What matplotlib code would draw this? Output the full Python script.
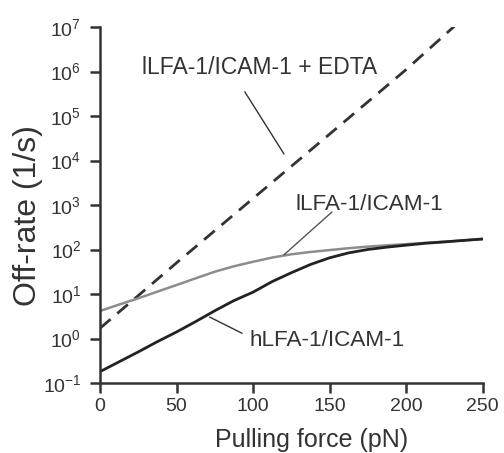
import numpy as np
import matplotlib
matplotlib.use('Agg')
import matplotlib.pyplot as plt
from matplotlib.ticker import LogLocator, LogFormatterSciNotation, NullLocator

## Fonts
plt.rcParams['font.family'] = ['Liberation Sans', 'DejaVu Sans']
plt.rcParams['mathtext.fontset'] = 'custom'
plt.rcParams['mathtext.rm'] = 'Liberation Sans'
plt.rcParams['mathtext.it'] = 'Liberation Sans:italic'
plt.rcParams['mathtext.bf'] = 'Liberation Sans:bold'

## DATA
force = [0, 12.5, 25, 37.5, 50, 62.5, 75, 87.5, 100, 112.5, 125, 137.5,
         150, 162.5, 175, 187.5, 200, 212.5, 225, 237.5, 250]
# hLFA-1/ICAM-1
rate_h = [0.18, 0.30, 0.50, 0.85, 1.4, 2.4, 4.2, 7.1, 11, 19, 30, 46,
          65, 84, 100, 113, 125, 138, 148, 160, 172]
# lLFA-1/ICAM-1
rate_l = [4.15, 5.8, 8.0, 11.3, 15.9, 22.5, 31.7, 42, 53, 66, 78, 88,
          97, 107, 116, 124, 132, 141, 150, 160, 172]
# lLFA-1/ICAM-1 + EDTA
force_edta = [0, 50, 100, 150, 200, 232]
rate_edta = [1.7, 50, 1.4e3, 3.9e4, 1.1e6, 1.07e7]

labels = ['lLFA-1/ICAM-1 + EDTA', 'lLFA-1/ICAM-1', 'hLFA-1/ICAM-1']
dark = '#333333'

## PLOT
fig = plt.figure(figsize=(5.04, 4.53), dpi=100)
ax = fig.add_axes([0.1984, 0.1545, 0.759, 0.7859])

ax.plot(force_edta, rate_edta, color=dark, lw=2.0, dashes=(5, 3.2))
ax.plot(force, rate_l, color='#8c8c8c', lw=1.8)
ax.plot(force, rate_h, color='#222222', lw=2.0)

ax.set_yscale('log')
ax.set_xlim(0, 250)
ax.set_ylim(0.1, 1e7)
ax.set_xticks([0, 50, 100, 150, 200, 250])
ax.yaxis.set_major_locator(LogLocator(base=10, numticks=20))
ax.yaxis.set_major_formatter(LogFormatterSciNotation())
ax.yaxis.set_minor_locator(NullLocator())

for s in ['top', 'right']:
    ax.spines[s].set_visible(False)
for s in ['left', 'bottom']:
    ax.spines[s].set_linewidth(1.8)
    ax.spines[s].set_color(dark)

ax.tick_params(direction='out', length=7.5, width=1.8, color=dark,
               labelsize=14, labelcolor=dark)
ax.tick_params(axis='x', pad=3)
ax.tick_params(axis='y', pad=6)

ax.set_xlabel('Pulling force (pN)', fontsize=18, color=dark)
ax.set_ylabel('Off-rate (1/s)', fontsize=23, color=dark)
ax.xaxis.set_label_coords(0.554, -0.127)
ax.yaxis.set_label_coords(-0.150, 0.469)

# Labels with leader lines (data coords)
txt = dict(color=dark, ha='center', va='baseline')
ax.text(104, 10**5.94, labels[0], fontsize=16.5, **txt)
ax.plot([94.7, 120.2], [10**5.54, 10**4.15], color=dark, lw=1)

ax.text(176, 10**2.89, labels[1], fontsize=16.2, **txt)
ax.plot([151.5, 120.2], [10**2.84, 10**1.88], color='#555555', lw=1)

ax.text(148.3, 10**-0.16, labels[2], fontsize=16.2, **txt)
ax.plot([92.7, 71.8], [10**0.12, 10**0.48], color=dark, lw=1)

fig.savefig('out.png', dpi=100)
